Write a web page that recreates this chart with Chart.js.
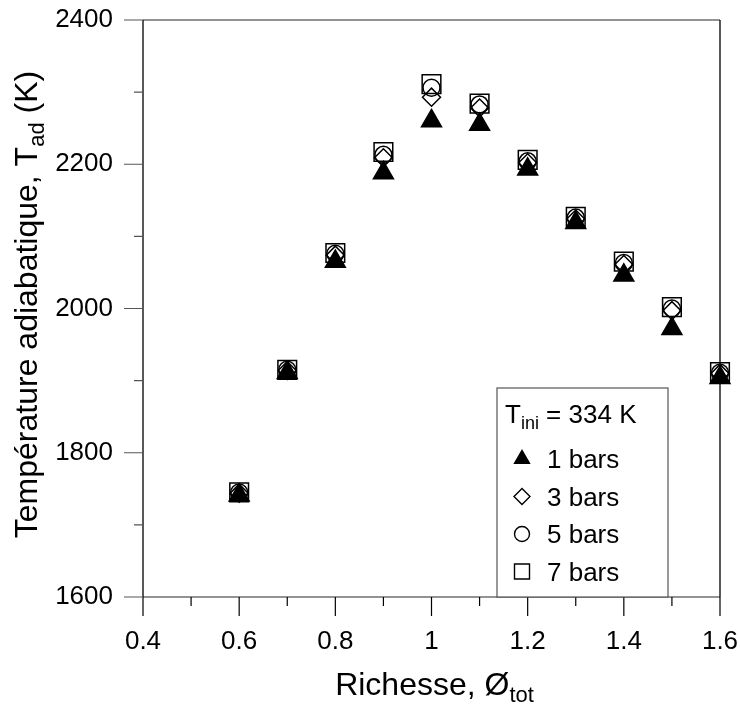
<!DOCTYPE html>
<html>
<head>
<meta charset="utf-8">
<script src="https://cdn.jsdelivr.net/npm/chart.js@4.4.1/dist/chart.umd.min.js"></script>
<style>
  html, body { margin: 0; padding: 0; background: #fff; }
  #wrap { width: 740px; height: 704px; }
</style>
</head>
<body>
<div id="wrap"><canvas id="adiabChart" width="740" height="704"></canvas></div>
<script>
// richesse values and adiabatic temperatures (K) per pressure
const phi = [0.6, 0.7, 0.8, 0.9, 1.0, 1.1, 1.2, 1.3, 1.4, 1.5, 1.6];
const t1bar = [1741, 1911, 2065, 2188, 2260, 2255, 2193, 2119, 2046, 1972, 1904];
const t3bar = [1744, 1914, 2074, 2209, 2293, 2278, 2202, 2124, 2061, 1997, 1910];
const t5bar = [1745, 1915, 2076, 2213, 2306, 2283, 2204, 2126, 2063, 2000, 1911];
const t7bar = [1745, 1915, 2077, 2217, 2311, 2284, 2206, 2127, 2065, 2002, 1912];
const seriesLabels = ['1 bars', '3 bars', '5 bars', '7 bars'];

const xTicks = [0.4, 0.6, 0.8, 1.0, 1.2, 1.4, 1.6];
const xMinor = [0.5, 0.7, 0.9, 1.1, 1.3, 1.5];
const yTicks = [1600, 1800, 2000, 2200, 2400];
const yMinor = [1700, 1900, 2100, 2300];

const FONT = '"Liberation Sans", Arial, sans-serif';

const toPts = arr => arr.map((v, i) => ({ x: phi[i], y: v }));

// small helper: text with subscript parts
function drawRich(ctx, parts, x, y, size, align) {
    let total = 0;
    parts.forEach(p => {
        ctx.font = (p.sub ? Math.round(size * 0.7) : size) + 'px ' + FONT;
        p.w = ctx.measureText(p.t).width;
        total += p.w;
    });
    let cx = align === 'center' ? x - total / 2 : x;
    parts.forEach(p => {
        ctx.font = (p.sub ? Math.round(size * 0.7) : size) + 'px ' + FONT;
        ctx.fillText(p.t, cx, p.sub ? y + size * 0.22 : y);
        cx += p.w;
    });
}

function drawMarker(ctx, style, x, y, r) {
    ctx.beginPath();
    if (style === 'triangle') {
        ctx.moveTo(x, y - r);
        ctx.lineTo(x + r * 0.866, y + r * 0.5);
        ctx.lineTo(x - r * 0.866, y + r * 0.5);
        ctx.closePath();
        ctx.fill();
    } else if (style === 'rectRot') {
        ctx.moveTo(x, y - r); ctx.lineTo(x + r, y); ctx.lineTo(x, y + r); ctx.lineTo(x - r, y);
        ctx.closePath();
        ctx.stroke();
    } else if (style === 'circle') {
        ctx.arc(x, y, r, 0, Math.PI * 2);
        ctx.stroke();
    } else {
        ctx.rect(x - r, y - r, 2 * r, 2 * r);
        ctx.stroke();
    }
}

const framePlugin = {
    id: 'frame',
    afterDraw(chart) {
        const { ctx, chartArea: a, scales: { x, y } } = chart;
        ctx.save();
        // frame
        ctx.lineWidth = 1.3;
        ctx.strokeStyle = '#707070';
        ctx.beginPath();
        ctx.moveTo(a.left, a.top); ctx.lineTo(a.right, a.top);
        ctx.moveTo(a.left, a.bottom); ctx.lineTo(a.right, a.bottom);
        ctx.stroke();
        ctx.strokeStyle = '#000';
        ctx.beginPath();
        ctx.moveTo(a.left, a.top); ctx.lineTo(a.left, a.bottom);
        ctx.moveTo(a.right, a.top); ctx.lineTo(a.right, a.bottom);
        ctx.stroke();

        // ticks outside
        ctx.lineWidth = 1.2;
        ctx.strokeStyle = '#000';
        ctx.beginPath();
        xTicks.forEach(v => { const px = x.getPixelForValue(v); ctx.moveTo(px, a.bottom); ctx.lineTo(px, a.bottom + 19); });
        xMinor.forEach(v => { const px = x.getPixelForValue(v); ctx.moveTo(px, a.bottom); ctx.lineTo(px, a.bottom + 9); });
        ctx.stroke();
        ctx.strokeStyle = '#555';
        ctx.beginPath();
        yTicks.forEach(v => { const py = y.getPixelForValue(v); ctx.moveTo(a.left, py); ctx.lineTo(a.left - 19, py); });
        yMinor.forEach(v => { const py = y.getPixelForValue(v); ctx.moveTo(a.left, py); ctx.lineTo(a.left - 9, py); });
        ctx.stroke();

        // axis titles
        ctx.fillStyle = '#000';
        ctx.textBaseline = 'alphabetic';
        ctx.textAlign = 'left';
        drawRich(ctx, [{ t: 'Richesse, Ø' }, { t: 'tot', sub: true }], (a.left + a.right) / 2 + 3, 695, 32, 'center');
        ctx.save();
        ctx.translate(37, (a.top + a.bottom) / 2 - 4);
        ctx.rotate(-Math.PI / 2);
        drawRich(ctx, [{ t: 'Température adiabatique, T' }, { t: 'ad', sub: true }, { t: ' (K)' }], 0, 0, 32, 'center');
        ctx.restore();

        // legend box
        const bx = 497, by = 388, bw = 171, bh = a.bottom - by;
        ctx.fillStyle = '#fff';
        ctx.fillRect(bx, by, bw, bh);
        ctx.strokeStyle = '#555';
        ctx.lineWidth = 1.2;
        ctx.strokeRect(bx, by, bw, bh);
        ctx.fillStyle = '#000';
        drawRich(ctx, [{ t: 'T' }, { t: 'ini', sub: true }, { t: ' = 334 K' }], 505, 423, 26, 'left');
        const styles = ['triangle', 'rectRot', 'circle', 'rect'];
        const radii = [10, 8, 7.5, 7.5];
        ctx.lineWidth = 1.4;
        ctx.strokeStyle = '#000';
        seriesLabels.forEach((lab, i) => {
            const base = 468 + i * 37.5;
            drawMarker(ctx, styles[i], 522, base - 9, radii[i]);
            ctx.font = '26px ' + FONT;
            ctx.fillText(lab, 547, base);
        });
        ctx.restore();
    }
};

const ds = (label, data, style, r, fill) => ({
    label: label,
    data: toPts(data),
    pointStyle: style,
    pointRadius: r,
    pointHoverRadius: r,
    pointBorderWidth: 1.5,
    pointBorderColor: '#000',
    pointBackgroundColor: fill,
    showLine: false,
    clip: false
});

new Chart(document.getElementById('adiabChart').getContext('2d'), {
    type: 'scatter',
    data: {
        datasets: [
            ds(seriesLabels[0], t1bar, 'triangle', 11.5, '#000'),
            ds(seriesLabels[1], t3bar, 'rectRot', 9, 'rgba(0,0,0,0)'),
            ds(seriesLabels[2], t5bar, 'circle', 8.5, 'rgba(0,0,0,0)'),
            ds(seriesLabels[3], t7bar, 'rect', 13.2, 'rgba(0,0,0,0)')
        ]
    },
    options: {
        responsive: false,
        animation: false,
        layout: { padding: { top: 20, right: 20, left: 0, bottom: 0 } },
        plugins: { legend: { display: false }, tooltip: { enabled: false } },
        scales: {
            x: {
                type: 'linear',
                min: 0.4,
                max: 1.6,
                afterFit: s => { s.height = 107; s.paddingLeft = 0; s.paddingRight = 0; },
                afterBuildTicks: s => { s.ticks = xTicks.map(v => ({ value: v })); },
                grid: { display: false, drawTicks: false },
                border: { display: false },
                ticks: {
                    padding: 29,
                    color: '#000',
                    font: { family: FONT, size: 26 },
                    callback: v => String(Number(v.toFixed(1)))
                }
            },
            y: {
                type: 'linear',
                min: 1600,
                max: 2400,
                afterFit: s => { s.width = 143; s.paddingTop = 0; s.paddingBottom = 0; },
                afterBuildTicks: s => { s.ticks = yTicks.map(v => ({ value: v })); },
                grid: { display: false, drawTicks: false },
                border: { display: false },
                ticks: {
                    padding: 30,
                    color: '#000',
                    font: { family: FONT, size: 26 },
                    callback: v => String(v)
                }
            }
        }
    },
    plugins: [framePlugin]
});
</script>
</body>
</html>
